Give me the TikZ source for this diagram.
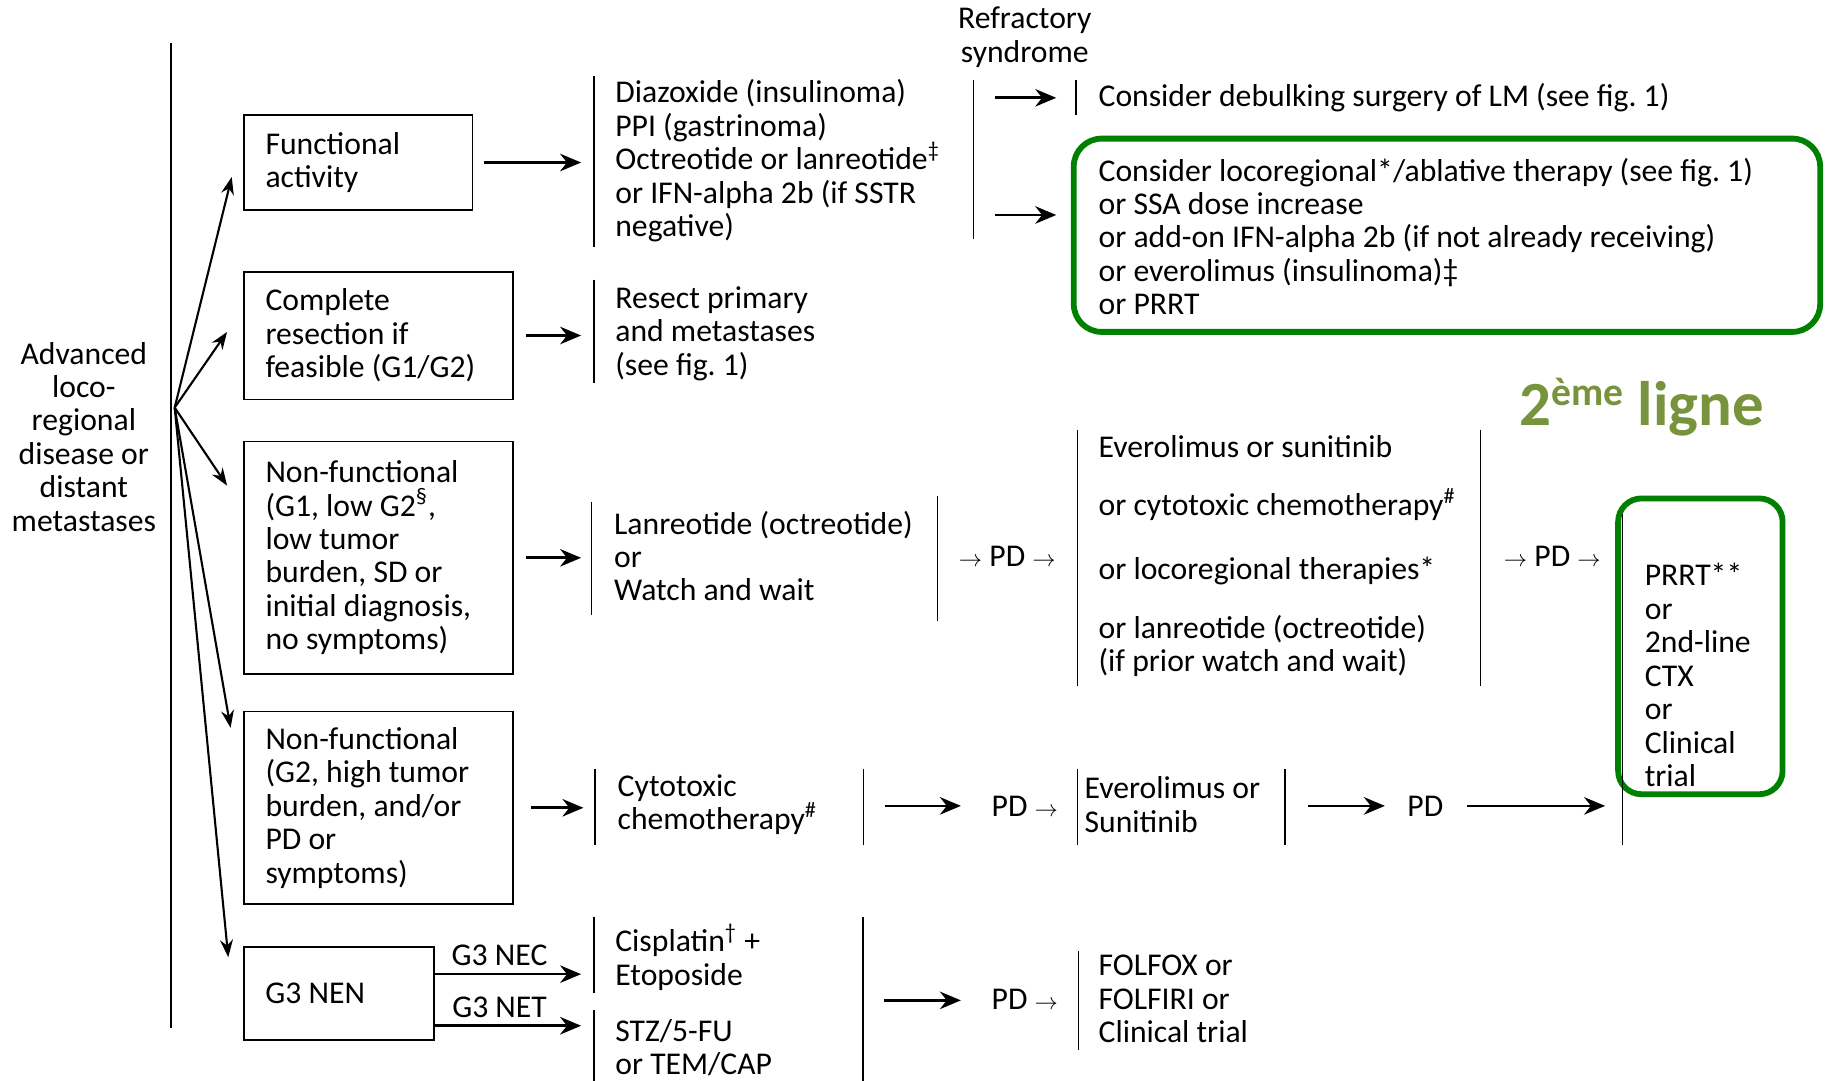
\documentclass[tikz,border=0pt]{standalone}
\usepackage{fontspec}
\setmainfont{Carlito}
\usetikzlibrary{arrows.meta}
\frenchspacing

\definecolor{framegreen}{RGB}{0,128,0}
\definecolor{lignegreen}{RGB}{119,147,60}
\newcommand{\sarr}{{\fontsize{10}{10}\selectfont$\rightarrow$}}

\tikzset{
	txt/.style={inner sep=0pt, anchor=west, align=left, font=\fontsize{13.6}{14.35}\selectfont},
	lbl/.style={inner sep=0pt, font=\fontsize{13.6}{14.35}\selectfont},
	box/.style={draw, line width=0.7pt, inner xsep=9.25pt, inner ysep=0pt, align=flush left, font=\fontsize{13.6}{14.35}\selectfont},
	bar/.style={line width=0.6pt},
	arr/.style={-{Stealth[length=9pt,width=7.5pt]}, line width=1.15pt},
	fan/.style={-{Stealth[length=7.5pt,width=5.5pt]}, line width=0.9pt},
	hl/.style={draw=framegreen, line width=2.5pt, rounded corners=12pt},
}

\begin{document}
\begin{tikzpicture}[x=0.5pt, y=-0.5pt]
	\useasboundingbox (0,0) rectangle (1568,928);
	
	% start
	\node[lbl, align=center] (adv) at (72,375) {Advanced\\loco-\\regional\\disease or\\distant\\metastases};
	\draw[bar] (147,37) -- (147,883);
	
	% boxes
	\node[box, text width=79.65pt, minimum height=40.75pt] (fun) at (307.65,139.55) {Functional\\activity};
	\node[box, text width=97pt, minimum height=54.8pt] (res) at (325,288.1) {Complete\\resection if\\feasible (G1/G2)};
	\node[box, text width=97pt, minimum height=99.75pt] (nf1) at (325,479) {Non-functional\\(G1, low G2\textsuperscript{§},\\low tumor\\burden, SD or\\initial diagnosis,\\no symptoms)};
	\node[box, text width=97pt, minimum height=82.65pt] (nf2) at (325,693.65) {Non-functional\\(G2, high tumor\\burden, and/or\\PD or\\symptoms)};
	\node[box, text width=63.05pt, minimum height=40pt] (g3) at (291,853) {G3 NEN};
	
	% fan
	\coordinate (root) at (150,350);
	\coordinate (t1) at (199,152);
	\coordinate (t2) at (195,285);
	\coordinate (t3) at (195,417);
	\coordinate (t4) at (198,625);
	\coordinate (t5) at (196,822);
	\foreach \t in {t1,t2,t3,t4,t5}
		\draw[fan] (root) -- (\t);
	
	% first line
	\node[txt] (diaz) at (528,138) {Diazoxide (insulinoma)\\PPI (gastrinoma)\\Octreotide or lanreotide\textsuperscript{‡}\\or IFN-alpha 2b (if SSTR\\negative)};
	\node[txt] (resect) at (528,286.5) {Resect primary\\and metastases\\(see fig. 1)};
	\node[txt] (lanr) at (527,477.5) {Lanreotide (octreotide)\\or\\Watch and wait};
	\node[txt] (cyto) at (530,691) {Cytotoxic\\chemotherapy\textsuperscript{\#}};
	\node[txt] (cis) at (528,822) {Cisplatin\textsuperscript{†} +\\Etoposide};
	\node[txt] (stz) at (528,899.5) {STZ/5-FU\\or TEM/CAP};
	
	% next lines
	\node[lbl, align=center] (refr) at (880,32) {Refractory\\syndrome};
	\node[txt] (debulk) at (943,84) {Consider debulking surgery of LM (see fig. 1)};
	\node[txt] (loco) at (943,203) {Consider locoregional*/ablative therapy (see fig. 1)\\or SSA dose increase\\or add-on IFN-alpha 2b (if not already receiving)\\or everolimus (insulinoma)‡\\or PRRT};
	\node[txt] (evero) at (943,477.5) {Everolimus or sunitinib\\[10.65pt]or cytotoxic chemotherapy\textsuperscript{\#}\\[13.15pt]or locoregional therapies*\\[10.65pt]or lanreotide (octreotide)\\(if prior watch and wait)};
	\node[txt] (evsun) at (931,691) {Everolimus or\\Sunitinib};
	\node[txt] (folfox) at (943,858) {FOLFOX or\\FOLFIRI or\\Clinical trial};
	\node[txt] (prrt) at (1412,579.7) {PRRT**\\or\\2nd-line\\CTX\\or\\Clinical\\trial};
	
	% PD
	\node[lbl] (pd1) at (865,478) {\sarr{} PD \sarr};
	\node[lbl] (pd2) at (1333,478) {\sarr{} PD \sarr};
	\node[lbl] (pd3) at (880,692) {PD \sarr};
	\node[lbl] (pd4) at (1224,692) {PD};
	\node[lbl] (pd5) at (880,858) {PD \sarr};
	
	% 2eme ligne
	\node[anchor=base west, inner sep=0pt, text=lignegreen, font=\fontsize{27}{27}\selectfont\bfseries] (ligne) at (1304.6,365) {2\raisebox{8.5pt}{\fontsize{17}{17}\selectfont ème} ligne};
	
	% frames
	\draw[hl] (922,119) rectangle (1563,285);
	\draw[hl, rounded corners=10pt] (1389.5,428) rectangle (1530.7,682);
	
	% bars
	\foreach \x/\ya/\yb in {510/65/212, 510/240/329, 508/431/528, 805/426/533,
		925.5/369/589, 1271.5/369/589, 836/69/205, 924/69/99, 1393/441/726,
		511/660/726, 741.6/660/726, 925.5/660/726, 1103.4/660/726,
		510/787/853, 510/867/928, 741/787/928, 926/817/902}
		\draw[bar] (\x,\ya) -- (\x,\yb);
	
	% arrows
	\draw[arr, shorten <=4.6pt, shorten >=14.5pt] (fun.east) -- (fun.east -| diaz.west);
	\draw[arr, shorten <=5.25pt, shorten >=14.5pt] (res.east) -- (res.east -| resect.west);
	\draw[arr, shorten <=5.25pt, shorten >=14pt] (nf1.east) -- (nf1.east -| lanr.west);
	\draw[arr, shorten <=7.25pt, shorten >=14.5pt] (nf2.east) -- (nf2.east -| cyto.west);
	\draw[arr, shorten >=14.5pt] ([yshift=8.25pt]g3.east) -- ([yshift=8.25pt]g3.east -| cis.west)
		node[lbl, pos=0.36, above=3pt] {G3 NEC};
	\draw[arr, shorten >=14.5pt] ([yshift=-13.9pt]g3.east) -- ([yshift=-13.9pt]g3.east -| stz.west)
		node[lbl, pos=0.36, above=3pt] {G3 NET};
	\draw[arr] ([xshift=-44.5pt]debulk.west) -- ([xshift=-18pt]debulk.west);
	\draw[arr] ([xshift=-44.5pt,yshift=9.2pt]loco.west) -- ([xshift=-18pt,yshift=9.2pt]loco.west);
	\draw[arr] ([xshift=-45.5pt]pd3.west) -- ([xshift=-13pt]pd3.west);
	\draw[arr] ([xshift=-42.5pt]pd4.west) -- ([xshift=-9.5pt]pd4.west);
	\draw[arr] ([xshift=10pt]pd4.east) -- ([xshift=69.25pt]pd4.east);
	\draw[arr] ([xshift=-46pt,yshift=-0.5pt]pd5.west) -- ([xshift=-13pt,yshift=-0.5pt]pd5.west);
\end{tikzpicture}
\end{document}
